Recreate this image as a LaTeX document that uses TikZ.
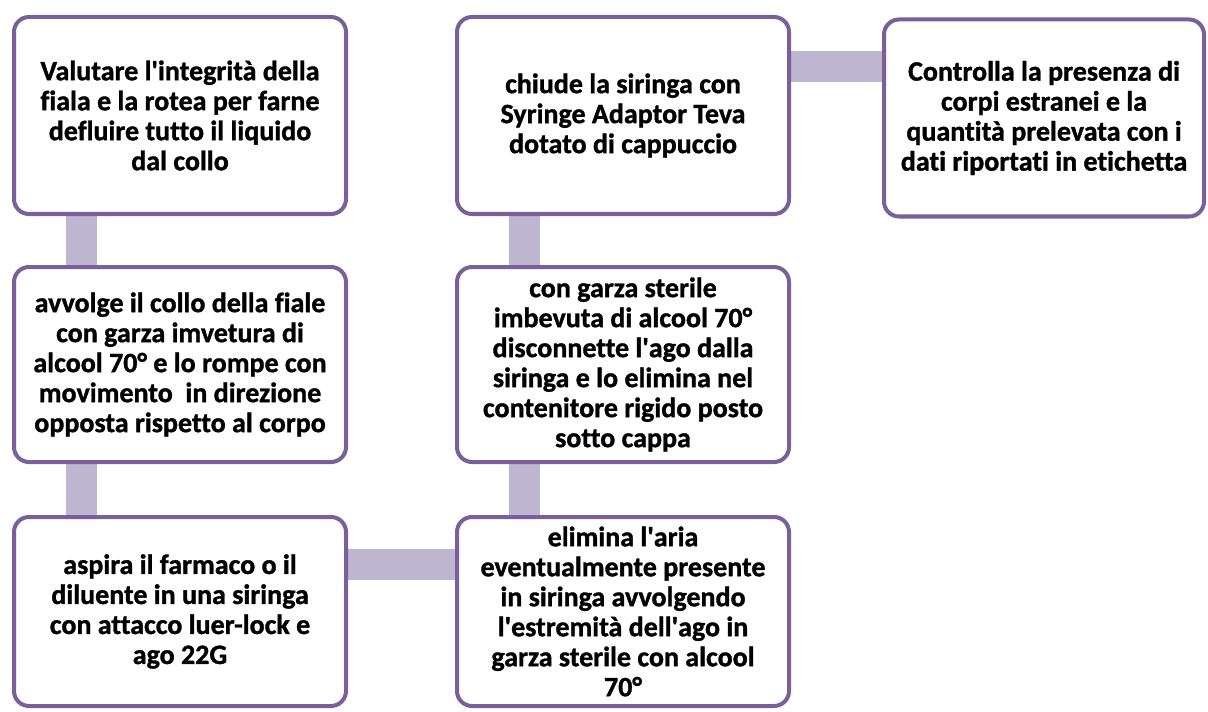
\documentclass[tikz,border=0pt]{standalone}
\usepackage{fontspec}
\setmainfont{Carlito}[Ligatures=NoCommon, FakeBold=1.2]
\usetikzlibrary{positioning, backgrounds}
\definecolor{stepline}{HTML}{7B5F9A}
\definecolor{linkbar}{HTML}{BEB6D0}
\tikzset{
  stepbox/.style={draw=stepline, line width=2pt, fill=white, rounded corners=7.5pt,
    minimum width=166pt, outer sep=0pt, align=center,
    font=\fontsize{14pt}{15pt}\selectfont\bfseries},
  link/.style={draw=linkbar, line width=15.5pt},
}
\newcommand{\ap}{\textquotesingle}

\begin{document}
\begin{tikzpicture}[x=0.5pt, y=-0.5pt]
	\tikzstyle{rowa}=[minimum height=98.5pt]
	\tikzstyle{rowb}=[minimum height=97.5pt]
	\tikzstyle{rowc}=[minimum height=94.5pt]

	\useasboundingbox (0,0) rectangle (1208,711);

	\node [stepbox, rowa] (fiala) at (180,115.5) {Valutare l\ap integrità della\\fiala e la rotea per farne\\defluire tutto il liquido\\dal collo};
	\node [stepbox, rowb, below = 26.5pt of fiala] (collo) {avvolge il collo della fiale\\con garza imvetura di\\alcool 70° e lo rompe con\\movimento~ in direzione\\opposta rispetto al corpo};
	\node [stepbox, rowc, below = 27.5pt of collo] (aspira) {aspira il farmaco o il\\diluente in una siringa\\con attacco luer-lock e\\ago 22G};

	\node [stepbox, rowa, right = 55.5pt of fiala] (chiude) {chiude la siringa con\\Syringe Adaptor Teva\\dotato di cappuccio};
	\node [stepbox, rowb, right = 55.5pt of collo] (ago) {con garza sterile\\imbevuta di alcool 70°\\disconnette l\ap ago dalla\\siringa e lo elimina nel\\contenitore rigido posto\\sotto cappa};
	\node [stepbox, rowc, right = 55.5pt of aspira] (aria) {elimina l\ap aria\\eventualmente presente\\in siringa avvolgendo\\l\ap estremità dell\ap ago in\\garza sterile con alcool\\70°};

	\node [stepbox, rowa, minimum width=160pt, right = 47.5pt of chiude, yshift=-1.25pt] (controlla) {Controlla la presenza di\\corpi estranei e la\\quantità prelevata con i\\dati riportati in etichetta};

	\begin{scope}[on background layer]
		\path[link] ([xshift=33.75pt]fiala.south west) -- ([xshift=33.75pt]collo.north west);
		\path[link] ([xshift=33.75pt]collo.south west) -- ([xshift=33.75pt]aspira.north west);
		\path[link] ([yshift=-23.75pt]aspira.north east) -- ([yshift=-23.75pt]aspira.north east -| aria.west);
		\path[link] ([xshift=33.75pt]aria.north west) -- ([xshift=33.75pt]ago.south west);
		\path[link] ([xshift=33.75pt]ago.north west) -- ([xshift=33.75pt]chiude.south west);
		\path[link] ([yshift=-25pt]chiude.north east) -- ([yshift=-25pt]chiude.north east -| controlla.west);
	\end{scope}
\end{tikzpicture}
\end{document}
